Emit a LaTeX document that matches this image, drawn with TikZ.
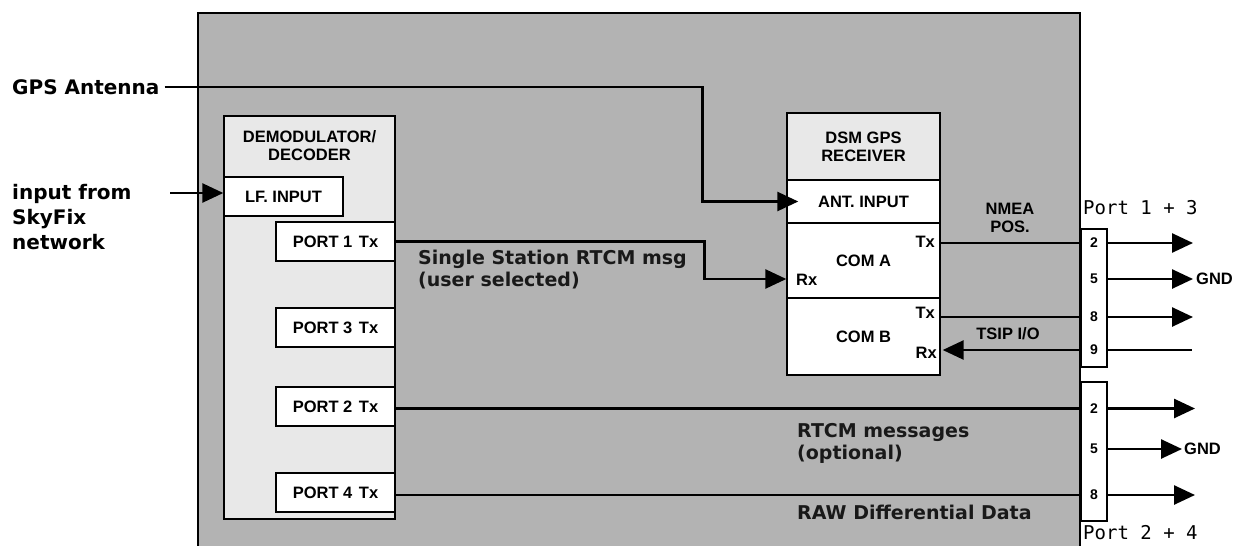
\documentclass[tikz,border=0pt]{standalone}
\usepackage{fontspec}
\setmainfont{Liberation Sans}
\newfontfamily\dvfont{DejaVu Sans}
\newfontfamily\dvmono{DejaVu Sans Mono}
\usetikzlibrary{arrows.meta,calc}
\definecolor{bggray}{HTML}{B3B3B3}
\definecolor{panelgray}{HTML}{E8E8E8}
\newcommand\bxfont{\fontsize{16.5}{18}\selectfont\bfseries}
\begin{document}
\begin{tikzpicture}[x=1pt,y=-1pt,
  box/.style={draw=black,line width=1.4pt,fill=white,inner sep=0pt,font=\bxfont},
  txt/.style={inner sep=0pt,font=\bxfont},
  pinnum/.style={inner sep=0pt,font=\fontsize{14}{15}\selectfont\bfseries},
  biglbl/.style={inner sep=0pt,align=left,font=\dvfont\bfseries\fontsize{20}{25}\selectfont},
  midlbl/.style={inner sep=0pt,align=left,text=black!90,font=\dvfont\bfseries\fontsize{19}{22}\selectfont},
  portlbl/.style={inner sep=0pt,font=\dvmono\fontsize{19}{22}\selectfont},
  wire/.style={line width=2.6pt},
  arr/.style={wire,-{Triangle[length=21pt,width=19pt]}}]
\useasboundingbox (0,0) rectangle (1234,546);
% background panel
\fill[bggray] (198,13) rectangle (1080,546);
\draw[line width=1.5pt] (198,546) -- (198,13) -- (1080,13) -- (1080,546);

% demodulator
\node[box,fill=panelgray,minimum width=171pt,minimum height=403pt] (demod) at (309.5,317.5) {};
\node[txt,align=center] (demodt) at (309.5,146) {DEMODULATOR/\\DECODER};
\node[box,minimum width=119pt,minimum height=39pt] (lf) at (283.5,196.5) {LF. INPUT};
\node[box,minimum width=119pt,minimum height=39pt] (p1) at (335.5,241.5) {PORT 1\hspace{0.4em}Tx};
\node[box,minimum width=119pt,minimum height=39pt] (p3) at (335.5,327.5) {PORT 3\hspace{0.4em}Tx};
\node[box,minimum width=119pt,minimum height=39pt] (p2) at (335.5,406.5) {PORT 2\hspace{0.4em}Tx};
\node[box,minimum width=119pt,minimum height=39pt] (p4) at (335.5,492.5) {PORT 4\hspace{0.4em}Tx};

% DSM receiver
\node[box,fill=panelgray,align=center,minimum width=153pt,minimum height=67pt] (dsm) at (863.5,146.5) {DSM GPS\\RECEIVER};
\node[box,minimum width=153pt,minimum height=43pt] (ant) at (863.5,201.5) {\raisebox{-5pt}{ANT. INPUT}};
\node[box,minimum width=153pt,minimum height=75pt] (coma) at (863.5,260.5) {COM A};
\node[box,minimum width=153pt,minimum height=77pt] (comb) at (863.5,336.5) {COM B};
\node[txt,anchor=east] (comatx) at (935,242) {Tx};
\node[txt,anchor=west] (comarx) at (796,280) {Rx};
\node[txt,anchor=east] (combtx) at (935,313) {Tx};
\node[txt,anchor=east] (combrx) at (937,353) {Rx};

% connectors
\node[box,minimum width=26pt,minimum height=138pt] (c1) at (1094,298) {};
\node[box,minimum width=26pt,minimum height=139pt] (c2) at (1094,451.5) {};
\node[pinnum] (a2) at (1094,243) {2};
\node[pinnum] (a5) at (1094,279) {5};
\node[pinnum] (a8) at (1094,317) {8};
\node[pinnum] (a9) at (1094,350) {9};
\node[pinnum] (b2) at (1094,408.5) {2};
\node[pinnum] (b5) at (1094,449) {5};
\node[pinnum] (b8) at (1094,495) {8};

% labels
\node[biglbl,anchor=west] (gps) at (12,87) {GPS Antenna};
\node[biglbl,anchor=west] (sky) at (12,217) {input from\\SkyFix\\network};
\node[midlbl,anchor=west] (single) at (418,270) {Single Station RTCM msg\\(user selected)};
\node[midlbl,anchor=west] (rtcm) at (797,443) {RTCM messages\\(optional)};
\node[midlbl,anchor=west] (raw) at (797,512) {RAW Differential Data};
\node[txt,align=center] (nmea) at (1010,218) {NMEA\\POS.};
\node[txt] (tsip) at (1008,334) {TSIP I/O};
\node[portlbl,anchor=west] (port13) at (1083,208) {Port 1 + 3};
\node[portlbl,anchor=west] (port24) at (1083,533) {Port 2 + 4};
\node[txt,anchor=west,inner xsep=3pt] (gnd1) at (1193,279) {GND};
\node[txt,anchor=west,inner xsep=2pt] (gnd2) at (1182,449) {GND};

% coordinates for free ends
\coordinate (skyin) at (170,193);
\coordinate (o12) at (1193,243);
\coordinate (o18) at (1193,317);
\coordinate (o19) at (1192,350);
\coordinate (o22) at (1195,408.5);
\coordinate (o28) at (1195,495);

% wires
\draw[arr] ([xshift=5pt]gps.east) -| ($(ant.west)+(-84,0)$) -- ([xshift=12pt]ant.west);
\draw[arr] (skyin) -- (lf.west |- skyin);
\draw[arr] (p1.east) -| ($(coma.west)+(-82,18.5)$) -- ($(coma.west)+(0,18.5)$);
\draw[wire] (coma.east |- a2) -- (c1.west |- a2);
\draw[wire] (comb.east |- a8) -- (c1.west |- a8);
\draw[arr] (c1.west |- a9) -- ([xshift=2pt]comb.east |- a9);
\draw[wire] (p2.east |- b2) -- (c2.west |- b2);
\draw[wire] (p4.east |- b8) -- (c2.west |- b8);

\draw[arr] (c1.east |- a2) -- (o12);
\draw[arr] (c1.east |- a5) -- (gnd1.west);
\draw[arr] (c1.east |- a8) -- (o18);
\draw[wire] (c1.east |- a9) -- (o19);
\draw[arr] (c2.east |- b2) -- (o22);
\draw[arr] (c2.east |- b5) -- (gnd2.west);
\draw[arr] (c2.east |- b8) -- (o28);
\end{tikzpicture}
\end{document}
